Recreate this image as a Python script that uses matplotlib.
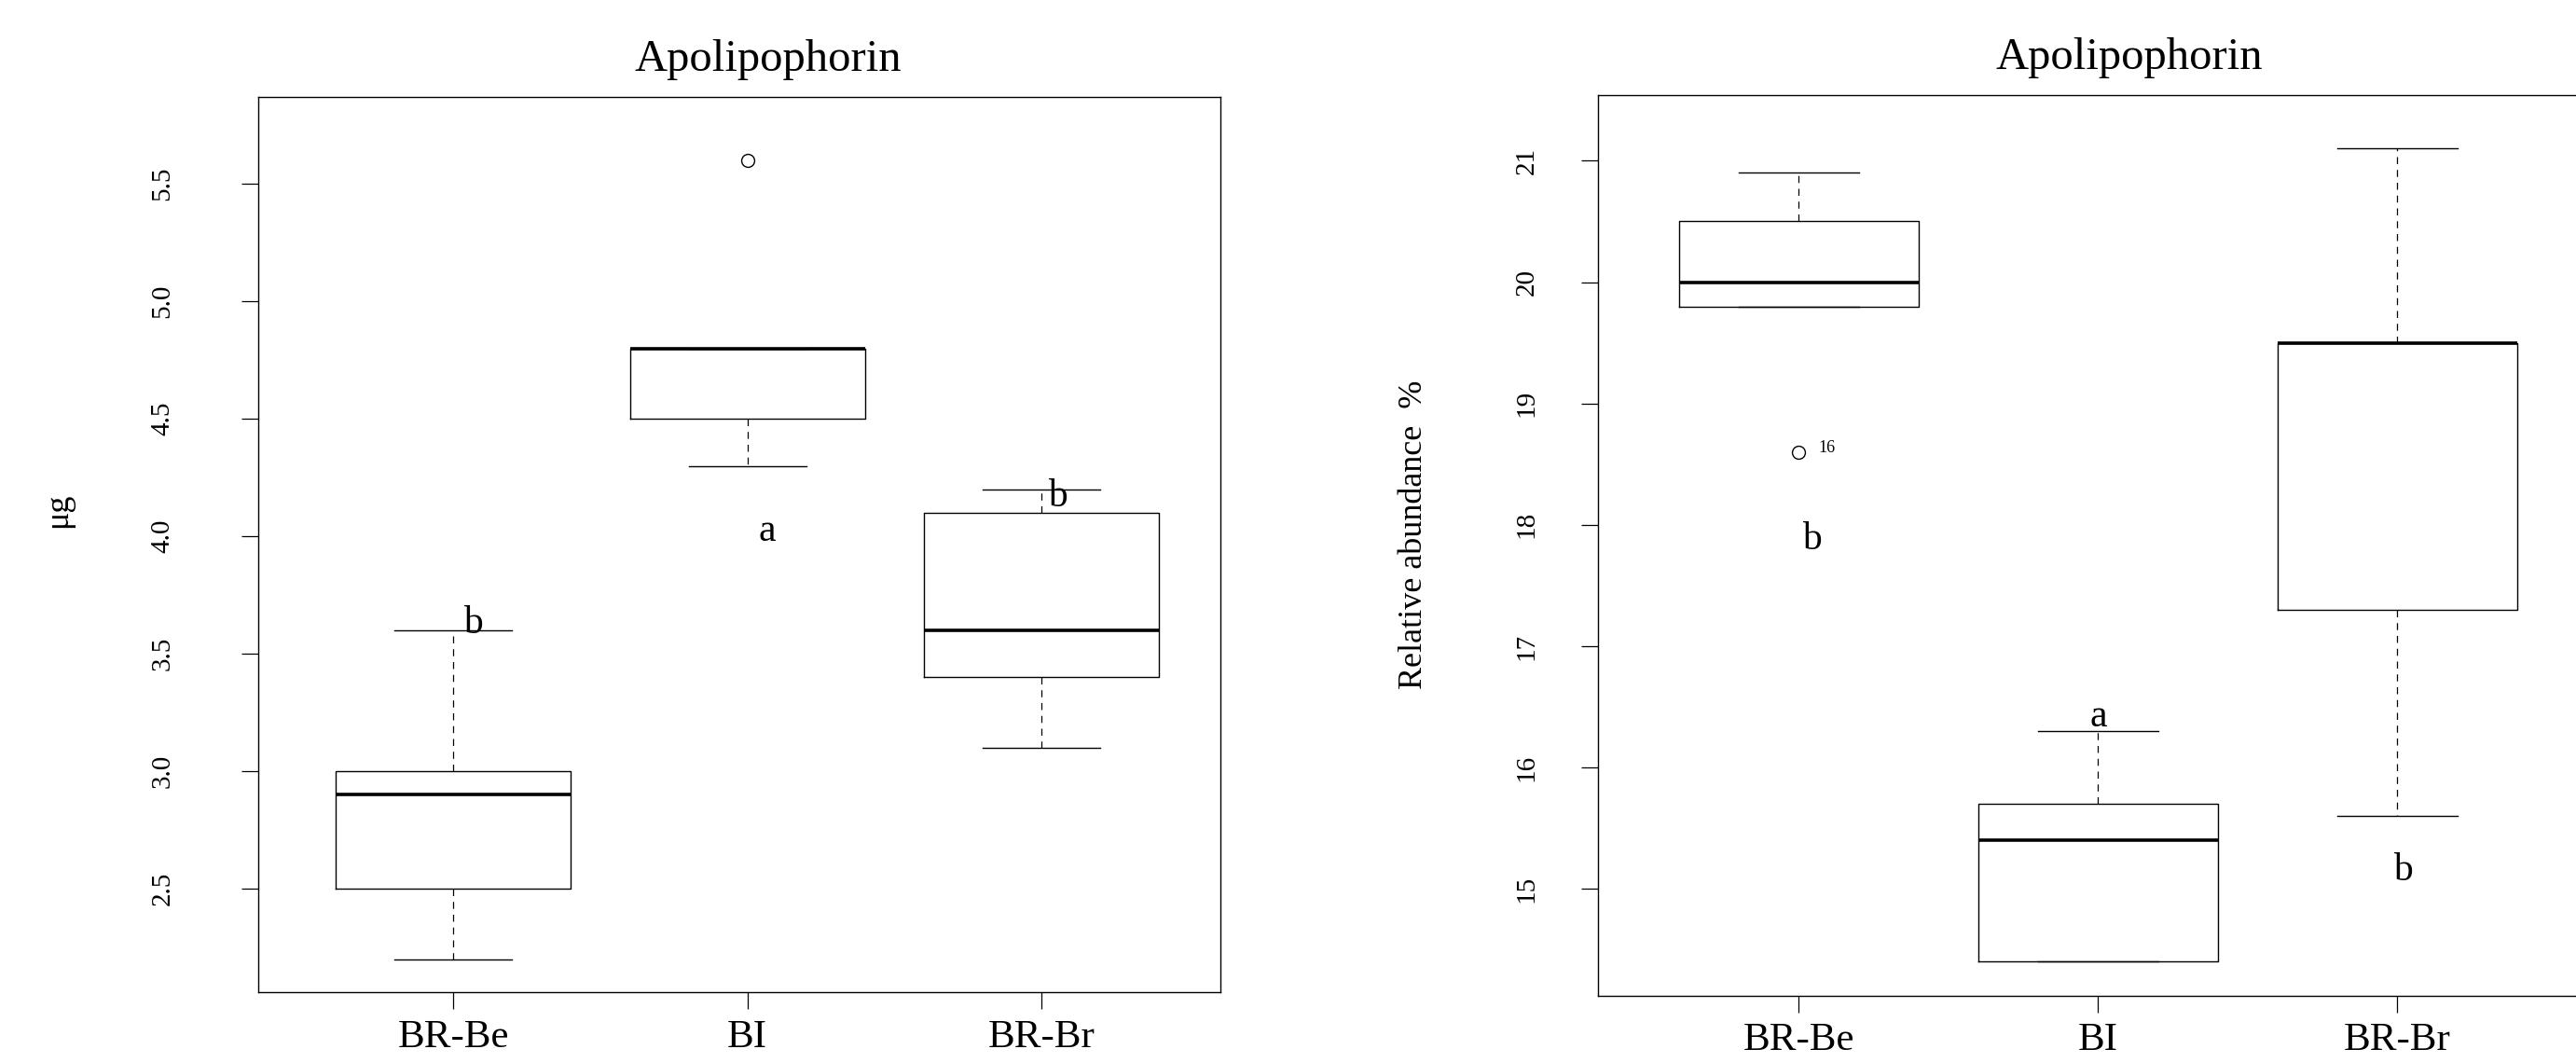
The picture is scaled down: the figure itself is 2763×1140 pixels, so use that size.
import numpy as np
import matplotlib
matplotlib.use("Agg")
import matplotlib.pyplot as plt

plt.rcParams['font.family'] = ['Liberation Serif', 'DejaVu Serif']

groups = ["BR-Be", "BI", "BR-Br"]

# left panel: amount (ug)
ug_whislo = [2.2, 4.3, 3.1]
ug_q1 = [2.5, 4.5, 3.4]
ug_med = [2.9, 4.8, 3.6]
ug_q3 = [3.0, 4.8, 4.1]
ug_whishi = [3.6, 4.8, 4.2]
ug_fliers = [[], [5.6], []]
ug_letters = ["b", "a", "b"]
ug_letter_x = [1.067, 2.067, 3.056]
ug_letter_y = [3.63, 4.02, 4.17]
ug_ticks = [2.5, 3.0, 3.5, 4.0, 4.5, 5.0, 5.5]

# right panel: relative abundance (%)
ra_whislo = [19.8, 14.4, 15.6]
ra_q1 = [19.8, 14.4, 17.3]
ra_med = [20.0, 15.4, 19.5]
ra_q3 = [20.5, 15.7, 19.5]
ra_whishi = [20.9, 16.3, 21.1]
ra_fliers = [[18.6], [], []]
ra_letters = ["b", "a", "b"]
ra_letter_x = [1.044, 2.0, 3.02]
ra_letter_y = [17.88, 16.42, 15.15]
ra_ticks = [15, 16, 17, 18, 19, 20, 21]
ra_outlier_id = "16"


def make_stats(lo, q1, med, q3, hi, fl):
    return [dict(whislo=lo[i], q1=q1[i], med=med[i], q3=q3[i], whishi=hi[i],
                 fliers=fl[i]) for i in range(len(lo))]


def draw(ax, stats, ticks, xlim, ylim, letters, lx, ly, tickpad):
    ax.bxp(stats, positions=[1, 2, 3], widths=0.8, showfliers=True,
           boxprops=dict(color='black', linewidth=1.0),
           medianprops=dict(color='black', linewidth=2.6, solid_capstyle='butt'),
           whiskerprops=dict(color='black', linewidth=0.9, linestyle=(0, (6, 5))),
           capprops=dict(color='black', linewidth=1.0),
           capwidths=0.4,
           flierprops=dict(marker='o', markerfacecolor='none', markeredgecolor='black',
                           markersize=10, markeredgewidth=1.0, linestyle='none'))
    ax.set_xlim(*xlim)
    ax.set_ylim(*ylim)
    ax.set_xticks([1, 2, 3])
    ax.set_xticklabels(groups, fontsize=31)
    ax.set_yticks(ticks)
    ax.set_yticklabels([str(t) for t in ticks], fontsize=21, rotation=90, va='center')
    ax.tick_params(axis='x', length=13, width=0.9, pad=8)
    ax.tick_params(axis='y', length=13, width=0.9, pad=tickpad)
    for s in ax.spines.values():
        s.set_linewidth(1.0)
    for t, x, y in zip(letters, lx, ly):
        ax.text(x, y, t, fontsize=30, ha='center', va='center')


fig = plt.figure(figsize=(27.63, 11.40), dpi=100)

ax1 = fig.add_axes([0.1001, 0.0665, 0.3738, 0.8423])
draw(ax1, make_stats(ug_whislo, ug_q1, ug_med, ug_q3, ug_whishi, ug_fliers),
     ug_ticks, (0.335, 3.61), (2.06, 5.87), ug_letters, ug_letter_x, ug_letter_y, 51)
fig.text(0.0228, 0.52, "\u03bcg", fontsize=26, rotation=90, ha='center', va='center')
fig.text(0.298, 0.944, "Apolipophorin", fontsize=35, ha='center', va='center')

ax2 = fig.add_axes([0.6205, 0.0634, 0.3822, 0.8470])
draw(ax2, make_stats(ra_whislo, ra_q1, ra_med, ra_q3, ra_whishi, ra_fliers),
     ra_ticks, (0.33, 3.62), (14.12, 21.54), ra_letters, ra_letter_x, ra_letter_y, 33)
ax2.text(1.093, 18.63, ra_outlier_id, fontsize=13, ha='center', va='center')
fig.text(0.549, 0.497, "Relative abundance  %", fontsize=26, rotation=90,
         ha='center', va='center')
fig.text(0.8265, 0.946, "Apolipophorin", fontsize=35, ha='center', va='center')

fig.savefig("out.png", dpi=100)
